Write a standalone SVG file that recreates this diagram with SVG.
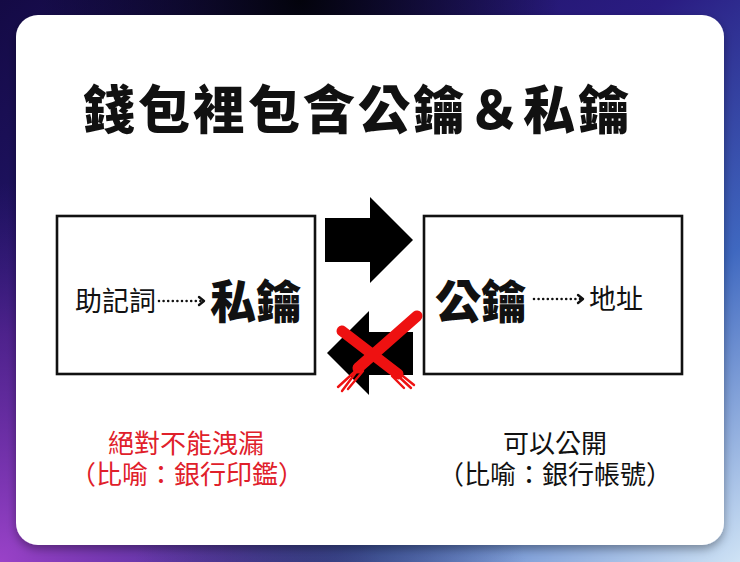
<svg xmlns="http://www.w3.org/2000/svg" width="740" height="562" viewBox="0 0 740 562">
  <defs>
    <linearGradient id="bgBase" x1="0" y1="0" x2="1" y2="1">
      <stop offset="0" stop-color="#140a45"/>
      <stop offset="0.45" stop-color="#2a1c82"/>
      <stop offset="0.72" stop-color="#3f68c0"/>
      <stop offset="1" stop-color="#cfe3f5"/>
    </linearGradient>
    <radialGradient id="bgPurple" cx="0" cy="562" r="380" gradientUnits="userSpaceOnUse">
      <stop offset="0" stop-color="#9a42c8" stop-opacity="1"/>
      <stop offset="0.6" stop-color="#6a2aa0" stop-opacity="0.6"/>
      <stop offset="1" stop-color="#4a2090" stop-opacity="0"/>
    </radialGradient>
    <radialGradient id="bgDark" cx="300" cy="0" r="260" gradientUnits="userSpaceOnUse">
      <stop offset="0" stop-color="#03030c" stop-opacity="1"/>
      <stop offset="1" stop-color="#03030c" stop-opacity="0"/>
    </radialGradient>
    <radialGradient id="bgBottomDark" cx="330" cy="600" r="200" gradientUnits="userSpaceOnUse">
      <stop offset="0" stop-color="#2e2a5a" stop-opacity="0.7"/>
      <stop offset="1" stop-color="#2e2a5a" stop-opacity="0"/>
    </radialGradient>
    <filter id="shadow" x="-10%" y="-10%" width="120%" height="125%">
      <feDropShadow dx="0" dy="4" stdDeviation="5" flood-color="#000" flood-opacity="0.35"/>
    </filter>
    <style>
      .cjk { font-family: "Noto Sans CJK TC", "Noto Sans CJK SC", "Noto Sans", sans-serif; }
      .lat { font-family: "Liberation Sans", "Noto Sans CJK TC", "Noto Sans CJK SC", sans-serif; }
      .box { fill: #ffffff; stroke: #111111; stroke-width: 2.6; }
      .big { font-size: 46px; font-weight: 900; fill: #111; }
      .small { font-size: 27px; font-weight: 400; fill: #111; }
      .note { font-size: 26px; font-weight: 400; text-anchor: middle; }
      .dots { fill: none; stroke: #111; stroke-width: 2.6; stroke-linecap: round; stroke-dasharray: 0 4.6; }
      .head { fill: none; stroke: #111; stroke-width: 2.4; stroke-linecap: round; stroke-linejoin: round; }
      .xmain { fill: none; stroke: #ee1111; stroke-width: 11; stroke-linecap: round; }
      .xfiber { fill: none; stroke: #ee1111; stroke-width: 2.4; stroke-linecap: round; }
    </style>
  </defs>

  <g id="background">
    <rect x="0" y="0" width="740" height="562" fill="url(#bgBase)"/>
    <rect x="0" y="0" width="740" height="562" fill="url(#bgPurple)"/>
    <rect x="0" y="0" width="740" height="562" fill="url(#bgDark)"/>
    <rect x="0" y="0" width="740" height="562" fill="url(#bgBottomDark)"/>
  </g>

  <g id="card">
    <rect x="16" y="15" width="708" height="530" rx="22" ry="22" fill="#ffffff" filter="url(#shadow)"/>
  </g>

  <g id="title">
    <text class="cjk" x="83" y="129" font-size="52" font-weight="900" fill="#111" textLength="547" lengthAdjust="spacing">錢包裡包含公鑰＆私鑰</text>
  </g>

  <g id="node-private">
    <rect class="box" x="57" y="216" width="258" height="158"/>
    <text class="cjk small" x="75" y="311">助記詞</text>
    <text class="cjk big" x="210" y="318">私鑰</text>
  </g>

  <g id="node-public">
    <rect class="box" x="424" y="216" width="258" height="158"/>
    <text class="cjk big" x="435" y="318">公鑰</text>
    <text class="cjk small" x="589" y="309">地址</text>
  </g>

  <g id="connectors">
    <path class="dots" d="M159,301 L202,301"/>
    <path class="head" d="M199,297 L204,301 L199,305"/>
    <path class="dots" d="M534,299 L581,299"/>
    <path class="head" d="M578,295 L583,299 L578,303"/>

    <polygon id="arrow-forward" points="325,218 370,218 370,197 413,240 370,283 370,262 325,262" fill="#000"/>
    <polygon id="arrow-back" points="413,332 369,332 369,311 327,353 369,395 369,375 413,375" fill="#000"/>

    <g id="cross">
      <path class="xmain" d="M342,331 L398,374"/>
      <path class="xfiber" d="M394,369 L414,385"/>
      <path class="xfiber" d="M397,375 L411,388"/>
      <path class="xfiber" d="M392,376 L404,388"/>
      <path class="xmain" d="M417,316 L358,368"/>
      <path class="xfiber" d="M362,365 L338,387"/>
      <path class="xfiber" d="M357,371 L342,391"/>
      <path class="xfiber" d="M363,371 L348,389"/>
    </g>
  </g>

  <g id="note-private">
    <text class="lat note" x="186" y="453" fill="#e0202a">絕對不能洩漏</text>
    <text class="lat note" x="187" y="484" fill="#e0202a">（比喻：銀行印鑑）</text>
  </g>

  <g id="note-public">
    <text class="lat note" x="555" y="453" fill="#111">可以公開</text>
    <text class="lat note" x="555" y="484" fill="#111">（比喻：銀行帳號）</text>
  </g>
</svg>
